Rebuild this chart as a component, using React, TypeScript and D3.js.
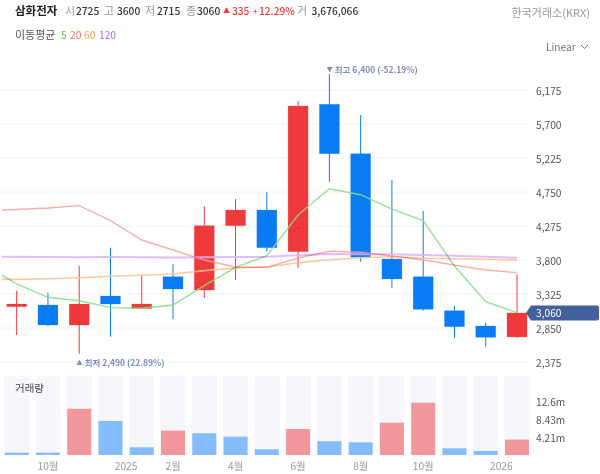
import React from "react";
import * as d3 from "d3";

const highs = [3371, 3343, 3720, 3972, 3586, 3740, 4554, 4652, 4746, 6021, 6400, 5826, 4918, 4485, 3157, 2924, 3600];
const lows = [2752, 2878, 2490, 2728, 3129, 2972, 3265, 3520, 3916, 3692, 4894, 3776, 3413, 3092, 2710, 2589, 2715];
const opens = [3148, 3171, 2892, 3297, 3120, 3567, 3381, 4279, 4498, 3916, 5975, 5285, 3814, 3567, 3092, 2878, 2725];
const closes = [3185, 2892, 3185, 3185, 3185, 3395, 4279, 4498, 3972, 5951, 5285, 3838, 3535, 3111, 2868, 2720, 3060];
const volumes = [0.55, 0.55, 11.0, 8.1, 1.83, 5.79, 5.17, 4.36, 1.36, 6.19, 3.26, 3.02, 7.69, 12.45, 1.6, 0.95, 3.676];
// the volume colours do not follow the candle colours in the picture
const volumeUp = [false, false, true, false, false, true, false, false, false, true, false, false, true, true, false, false, true];

// moving averages start one candle before the first visible one
const ma5 = [3730, 3465, 3279, 3231, 3134, 3125, 3171, 3441, 3698, 3860, 4429, 4796, 4712, 4512, 4349, 3716, 3217, 3064];
const ma20 = [4490, 4505, 4526, 4559, 4349, 4079, 3940, 3800, 3698, 3698, 3828, 3922, 3908, 3856, 3800, 3730, 3660, 3623];
const ma60 = [3528, 3530, 3539, 3553, 3572, 3586, 3604, 3651, 3688, 3702, 3762, 3804, 3832, 3846, 3824, 3818, 3810, 3800];
const ma120 = [3843, 3845, 3842, 3840, 3841, 3838, 3836, 3838, 3841, 3845, 3866, 3884, 3880, 3880, 3870, 3860, 3846, 3832];

const priceTicks = [6175, 5700, 5225, 4750, 4275, 3800, 3325, 2850, 2375];
const volumeTicks = [
  { value: 12.63, label: "12.6m" },
  { value: 8.43, label: "8.43m" },
  { value: 4.21, label: "4.21m" },
];
const timeLabels = [
  { at: 1, label: "10월" },
  { at: 3.5, label: "2025" },
  { at: 5, label: "2월" },
  { at: 7, label: "4월" },
  { at: 9, label: "6월" },
  { at: 11, label: "8월" },
  { at: 13, label: "10월" },
  { at: 15.5, label: "2026" },
];

const RED = "#f0393b";
const BLUE = "#0a7cf3";
const FONT = "'Noto Sans CJK KR', 'Noto Sans', sans-serif";

const x = d3.scaleLinear().domain([0, 16]).range([16.67, 517]);
const y = d3.scaleLinear().domain([2375, 6175]).range([362, 90]);
const yVol = d3.scaleLinear().domain([0, 18.8]).range([455, 376]);

const maLine = d3
  .line<number>()
  .x((_, i) => x(i - 1))
  .y((d) => y(d));

const App: React.FC = () => {
  const maSeries = [
    { data: ma120, color: "#d9b3fb", width: 2 },
    { data: ma60, color: "#fcc090", width: 1.6 },
    { data: ma20, color: "#fda0a2", width: 1.4 },
    { data: ma5, color: "#85dc85", width: 1.4 },
  ];
  const num = { fill: "#333", fontWeight: 500, fontSize: 10.2 };
  const pct = { fill: RED, fontWeight: 500, fontSize: 10.2 };

  return (
    <svg
      width={600}
      height={474}
      style={{ position: "absolute", left: 0, top: 0, background: "#fff" }}
      fontFamily={FONT}
    >
      <defs>
        <clipPath id="plot">
          <rect x={2} y={40} width={515} height={330} />
        </clipPath>
      </defs>

      {/* header */}
      <g fontSize={11} dominantBaseline="central">
        <text x={15} y={10} fontSize={11.5} fontWeight={700} fill="#222">삼화전자</text>
        <text x={65} y={10} fill="#999">시</text>
        <text x={76} y={10} {...num}>2725</text>
        <text x={104} y={10} fill="#999">고</text>
        <text x={117} y={10} {...num}>3600</text>
        <text x={145} y={10} fill="#999">저</text>
        <text x={157} y={10} {...num}>2715</text>
        <text x={186} y={10} fill="#999">종</text>
        <text x={197} y={10} {...num}>3060</text>
        <text x={223} y={10} fill={RED} fontSize={7}>▲</text>
        <text x={232} y={10} {...pct}>335</text>
        <text x={253} y={10} {...pct} fontSize={8}>+</text>
        <text x={259} y={10} {...pct}>12.29%</text>
        <text x={297} y={10} fill="#999">거</text>
        <text x={311.5} y={10} {...num}>3,676,066</text>
        <text x={590} y={12} textAnchor="end" fill="#999" fontSize={11}>한국거래소(KRX)</text>
        <text x={15} y={34} fill="#555">이동평균</text>
        <text x={61} y={34} fill="#55d13f" fontSize={10.2}>5</text>
        <text x={70} y={34} fill="#ff6b70" fontSize={10.2}>20</text>
        <text x={84} y={34} fill="#ff9f4d" fontSize={10.2}>60</text>
        <text x={99} y={34} fill="#a56bf5" fontSize={10.2}>120</text>
        <text x={546} y={46} fill="#777" fontSize={10.2}>Linear</text>
      </g>
      <path d="M581,45 L584.5,48.5 L588,45" fill="none" stroke="#777" strokeWidth={1} />

      {/* grid and price axis */}
      {priceTicks.map((t) => (
        <g key={t}>
          <line x1={0} x2={531} y1={y(t)} y2={y(t)} stroke="#f4f4f6" />
          <text x={536} y={y(t)} fontSize={10.2} fill="#555" dominantBaseline="central">
            {d3.format(",")(t)}
          </text>
        </g>
      ))}

      {/* candles */}
      {highs.map((h, i) => {
        const up = closes[i] >= opens[i];
        const color = up ? RED : BLUE;
        const top = y(Math.max(opens[i], closes[i]));
        const bottom = y(Math.min(opens[i], closes[i]));
        return (
          <g key={i}>
            <line x1={x(i)} x2={x(i)} y1={y(h)} y2={y(lows[i])} stroke={color} strokeWidth={1} />
            <rect
              x={x(i) - 10}
              y={top}
              width={20}
              height={bottom - top}
              fill={color}
              stroke={color}
              strokeOpacity={0.25}
              strokeWidth={0.8}
            />
          </g>
        );
      })}

      {/* moving averages */}
      <g clipPath="url(#plot)" fill="none" opacity={0.85}>
        {maSeries.map((s) => (
          <path key={s.color} d={maLine(s.data) ?? ""} stroke={s.color} strokeWidth={s.width} style={{ mixBlendMode: "multiply" }} />
        ))}
      </g>

      {/* high / low notes */}
      <g fontSize={8.5} fill="#7d8dc2" fontWeight={700} dominantBaseline="central">
        <text x={x(10) - 3} y={y(6400) - 5}>
          <tspan fontSize={6.5}>▼</tspan> 최고 6,400 (-52.19%)
        </text>
        <text x={x(2) - 3} y={y(2490) + 8}>
          <tspan fontSize={6.5}>▲</tspan> 최저 2,490 (22.89%)
        </text>
      </g>

      {/* current price tag */}
      <path
        d={`M526,${y(3060)} L531,${y(3060) - 7.5} H597 Q599,${y(3060) - 7.5} 599,${y(3060) - 5.5} V${y(3060) + 5.5} Q599,${y(3060) + 7.5} 597,${y(3060) + 7.5} H531 Z`}
        fill="#44609c"
      />
      <text x={536} y={y(3060)} fontSize={10.2} fill="#fff" dominantBaseline="central">
        3,060
      </text>

      {/* volume */}
      {volumes.map((v, i) => (
        <g key={i}>
          <rect x={x(i) - 12.7} y={yVol.range()[1]} width={25.4} height={yVol(0) - yVol.range()[1]} fill="#f6f7fc" />
          <rect x={x(i) - 12} y={yVol(v)} width={24} height={yVol(0) - yVol(v)} fill={volumeUp[i] ? "#f2979b" : "#84bcfc"} />
        </g>
      ))}
      <text x={15} y={387} fontSize={10.5} fill="#444" dominantBaseline="central">거래량</text>
      {volumeTicks.map((t) => (
        <text key={t.label} x={536} y={yVol(t.value)} fontSize={10.2} fill="#555" dominantBaseline="central">
          {t.label}
        </text>
      ))}
      {timeLabels.map((t) => (
        <text key={t.label + t.at} x={x(t.at)} y={465} fontSize={10.2} fill="#999" textAnchor="middle" dominantBaseline="central">
          {t.label}
        </text>
      ))}
    </svg>
  );
};

export default App;
